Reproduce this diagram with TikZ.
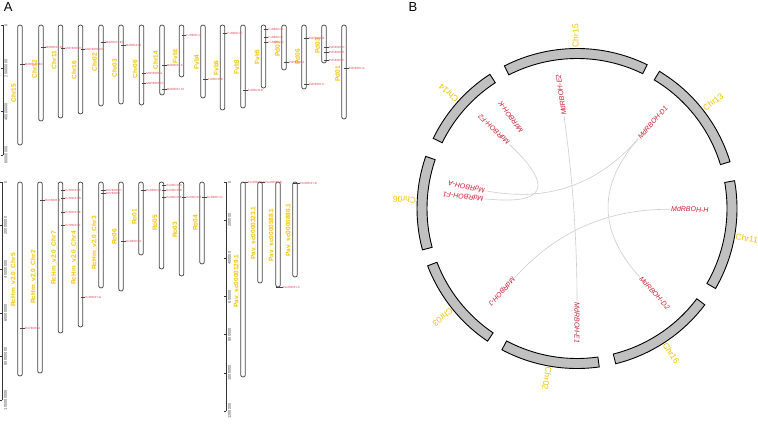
\documentclass[tikz,border=0pt]{standalone}
\usepackage{fontspec}
\setmainfont{Liberation Sans}
\usetikzlibrary{calc}
\definecolor{gold}{RGB}{245,196,0}
\definecolor{genered}{RGB}{232,72,88}
\definecolor{bred}{RGB}{200,30,50}
\definecolor{chromc}{RGB}{70,70,70}
\definecolor{linkc}{RGB}{205,205,205}
\definecolor{arcfill}{RGB}{192,192,192}
\definecolor{markblue}{RGB}{40,40,220}
\newcommand{\mkchrom}[3]{\draw[chromo] (#1-2.3,#2) rectangle (#1+2.3,#3);}
\newcommand{\mkgene}[4]{\draw[gtick] (#2,#3) -- (#2+4.5,#3) node[genelab,anchor=west] (#1) {#4};}
\newcommand{\mkclab}[4]{\node[chrlab] (#1) at (#2,#3) {#4};}
\newcommand{\mksector}[2]{\draw[sector] (#1:160) arc[start angle=#1, end angle=#2, radius=160] -- (#2:150) arc[start angle=#2, end angle=#1, radius=150] -- cycle;}
\begin{document}
\begin{tikzpicture}[x=1pt,y=-1pt,
  chromo/.style={draw=chromc, fill=white, line width=0.75pt, rounded corners=2.2pt},
  gtick/.style={draw=chromc, line width=0.3pt},
  genelab/.style={text=genered, font=\fontsize{3}{3}\selectfont, inner sep=0.3pt},
  chrlab/.style={text=gold, font=\fontsize{6.5}{6.5}\selectfont\bfseries, rotate=90, inner sep=0pt},
  axnum/.style={text=black!70, font=\fontsize{4}{4}\selectfont, rotate=90, inner sep=0pt},
  axline/.style={draw=black!80, line width=0.5pt},
  panel/.style={font=\fontsize{13}{13}\selectfont, inner sep=0pt},
  sector/.style={draw=black, fill=arcfill, line width=0.9pt},
  blab/.style={text=gold, font=\fontsize{8.5}{8.5}\selectfont, inner sep=0pt, anchor=west},
  glab/.style={text=bred, font=\fontsize{7}{7}\selectfont\itshape, inner sep=0pt, anchor=west},
  link/.style={draw=linkc, line width=0.6pt}]
\useasboundingbox (0,0) rectangle (758,425);
\fill[white] (0,0) rectangle (758,425);

% panel letters
\node[panel] (pA) at (8.3,7) {A};
\node[panel] (pB) at (413,7) {B};

% ===== top axis
\draw[axline] (3,25) -- (3,155);
\foreach \v/\t [count=\i] in {25/0, 68.3/20000000, 111.7/40000000, 155/60000000} {
  \draw[axline] (1,\v) -- (3,\v);
  \node[axnum] (ta\i) at (6,\v) {\t};
}
% ===== top chromosomes
\mkchrom{20}{25}{145}   \mkclab{c1}{13.5}{93}{Chr15}
\mkchrom{41}{25}{121}   \mkclab{c2}{34.5}{69}{Chr12}
\mkchrom{60.5}{25}{118} \mkclab{c3}{54}{60}{Chr11}
\mkchrom{80.5}{25}{114} \mkclab{c4}{74}{70}{Chr16}
\mkchrom{101}{25}{106}  \mkclab{c5}{94.5}{62}{Chr02}
\mkchrom{121}{25}{104}  \mkclab{c6}{114.5}{68}{Chr03}
\mkchrom{141.5}{25}{105} \mkclab{c7}{135}{69}{Chr06}
\mkchrom{162}{25}{95}   \mkclab{c8}{155.5}{60}{Chr14}
\mkchrom{181.5}{25}{77} \mkclab{c9}{175}{56}{Fvb1}
\mkchrom{203}{25}{98}   \mkclab{c10}{196.5}{62}{Fvb4}
\mkchrom{222.5}{25}{110} \mkclab{c11}{216}{68}{Fvb6}
\mkchrom{243}{25}{108}  \mkclab{c12}{236.5}{67}{Fvb3}
\mkchrom{263.5}{25}{88} \mkclab{c13}{257}{57}{Fvb5}
\mkchrom{284}{25}{70}   \mkclab{c14}{277.5}{49}{Pd07}
\mkchrom{304}{25}{89}   \mkclab{c15}{297.5}{57}{Pd06}
\mkchrom{324}{25}{63}   \mkclab{c16}{317.5}{46}{Pd03}
\mkchrom{344}{25}{119}  \mkclab{c17}{337.5}{74}{Pd01}
% top genes
\mkgene{g1}{20}{64}{MdRBOH-E2}
\mkgene{g2}{41}{47}{MdRBOH-D1}
\mkgene{g3}{60.5}{48}{MdRBOH-H}
\mkgene{g4}{80.5}{49}{MdRBOH-D2}
\mkgene{g5}{101}{42}{MdRBOH-E1}
\mkgene{g6}{121}{45}{MdRBOH-J}
\mkgene{g7}{141.5}{73}{MdRBOH-A}
\mkgene{g8}{141.5}{83.5}{MdRBOH-F1}
\mkgene{g9}{162}{65}{MdRBOH-K}
\mkgene{g10}{162}{89}{MdRBOH-F2}
\mkgene{g11}{181.5}{35}{FvRBOH-A}
\mkgene{g12}{203}{79}{FvRBOH-B}
\mkgene{g13}{222.5}{33}{FvRBOH-C}
\mkgene{g14}{243}{90}{FvRBOH-D}
\mkgene{g15}{263.5}{29}{FvRBOH-E}
\mkgene{g16}{263.5}{37}{FvRBOH-F}
\mkgene{g17}{263.5}{42}{FvRBOH-G}
\mkgene{g18}{284}{62}{PdRBOH-A}
\mkgene{g19}{304}{38}{PdRBOH-B}
\mkgene{g20}{304}{84}{PdRBOH-C}
\mkgene{g21}{324}{47}{PdRBOH-D}
\mkgene{g22}{324}{52}{PdRBOH-E}
\mkgene{g23}{324}{60}{PdRBOH-F}
\mkgene{g24}{344}{68}{PdRBOH-G}

% ===== bottom axis
\draw[axline] (2,182) -- (2,400);
\foreach \v/\t [count=\i] in {182/0, 225.6/20000000, 269.2/40000000, 312.8/60000000, 356.4/80000000, 400/100000000} {
  \draw[axline] (0,\v) -- (2,\v);
  \node[axnum] (ba\i) at (5.5,\v) {\t};
}
\mkchrom{20}{182}{376}   \mkclab{d1}{13.5}{280}{RcHm\_v2.0\_Chr5}
\mkchrom{40}{182}{373}   \mkclab{d2}{33.5}{277}{RcHm\_v2.0\_Chr2}
\mkchrom{60.5}{182}{333} \mkclab{d3}{54}{258}{RcHm\_v2.0\_Chr7}
\mkchrom{80.5}{182}{327} \mkclab{d4}{74}{258}{RcHm\_v2.0\_Chr4}
\mkchrom{101}{182}{288}  \mkclab{d5}{94.5}{243}{RcHm\_v2.0\_Chr3}
\mkchrom{121}{182}{291}  \mkclab{d6}{114.5}{237}{Ro06}
\mkchrom{141}{182}{255}  \mkclab{d7}{134.5}{217}{Ro01}
\mkchrom{161.5}{182}{269} \mkclab{d8}{155}{223}{Ro05}
\mkchrom{181.5}{182}{276} \mkclab{d9}{175}{230}{Ro03}
\mkchrom{202}{182}{264}  \mkclab{d10}{195.5}{223}{Ro04}
\mkgene{h1}{20}{328}{RcRBOH-A}
\mkgene{h2}{40}{200}{RcRBOH-B}
\mkgene{h3}{60.5}{190}{RcRBOH-C}
\mkgene{h4}{60.5}{198}{RcRBOH-D}
\mkgene{h5}{60.5}{212}{RcRBOH-E}
\mkgene{h6}{60.5}{225}{RcRBOH-F}
\mkgene{h7}{80.5}{297}{RcRBOH-G}
\mkgene{h8}{101}{190}{RcRBOH-H}
\mkgene{h9}{101}{193.5}{RcRBOH-I}
\mkgene{h10}{121}{241}{RoRBOH-A}
\mkgene{h11}{141}{190}{RoRBOH-B}
\mkgene{h12}{161.5}{185}{RoRBOH-C}
\mkgene{h13}{161.5}{190}{RoRBOH-D}
\mkgene{h14}{161.5}{197}{RoRBOH-E}
\mkgene{h15}{181.5}{197}{RoRBOH-F}
\mkgene{h16}{202}{197}{RoRBOH-G}

% ===== Pav axis
\draw[axline] (226,182) -- (226,411);
\foreach \v/\t [count=\i] in {182/0, 220.2/200000, 258.3/400000, 296.5/600000, 334.7/800000, 372.8/1000000, 411/1200000} {
  \draw[axline] (224,\v) -- (226,\v);
  \node[axnum] (pa\i) at (229.5,\v) {\t};
}
\mkchrom{243}{182}{377}  \mkclab{e1}{236.5}{281}{Pav\_sc0000129.1}
\mkchrom{260}{182}{283}  \mkclab{e2}{253.5}{233}{Pav\_sc0000323.1}
\mkchrom{278}{182}{287}  \mkclab{e3}{271.5}{235}{Pav\_sc0000588.1}
\mkchrom{295}{182}{277}  \mkclab{e4}{288.5}{230}{Pav\_sc0000886.1}
\draw[markblue, line width=0.8pt] (275.5,287) -- (280.5,287);
\draw[markblue, line width=0.8pt] (292.5,183.5) -- (297.5,183.5);
\mkgene{k1}{243}{182.5}{PavRBOH-A}
\mkgene{k2}{260}{182.5}{PavRBOH-B}
\mkgene{k3}{278}{287}{PavRBOH-C}
\mkgene{k4}{295}{183.5}{PavRBOH-D}

% ===== panel B
\begin{scope}[shift={(577pt,-208.5pt)}, x=1pt, y=1pt]
  \coordinate (O) at (0,0);
  \mksector{64}{117}
  \mksector{17}{59}
  \mksector{-30}{10}
  \mksector{-76}{-37}
  \mksector{242}{278}
  \mksector{201}{236}
  \mksector{161}{195}
  \mksector{123}{154}
  \node[blab, rotate=90.5] (b15) at (90.5:161) {Chr15};
  \node[blab, rotate=38] (b13) at (38:161) {Chr13};
  \node[blab, rotate=-10] (b11) at (-10:161) {Chr11};
  \node[blab, rotate=-57] (b16) at (-57:161) {Chr16};
  \node[blab, rotate=260] (b02) at (260:161) {Chr02};
  \node[blab, rotate=219] (b03) at (219:161) {Chr03};
  \node[blab, rotate=177] (b06) at (177:161) {Chr06};
  \node[blab, rotate=138] (b14) at (138:161) {Chr14};
  % gene anchors
  \foreach \n/\a in {E2/98, K/126, F2/136.5, A/169, F1/174, J/228, E1/270, D2/312.5, H/359.5, D1/48.7} {
    \coordinate (p\n) at (\a:93);
    \node[glab, rotate=\a] (l\n) at (\a:94) {MdRBOH-\n};
  }
  % links (quadratic curves through centre)
  \draw[link] (pF2) .. controls ($(pF2)!0.6667!(O)$) and ($(pF1)!0.6667!(O)$) .. (pF1);
  \draw[link] (pD1) .. controls ($(pD1)!0.6667!(O)$) and ($(pA)!0.6667!(O)$) .. (pA);
  \draw[link] (pD1) .. controls ($(pD1)!0.6667!(O)$) and ($(pD2)!0.6667!(O)$) .. (pD2);
  \draw[link] (pE2) .. controls ($(pE2)!0.6667!(O)$) and ($(pE1)!0.6667!(O)$) .. (pE1);
  \draw[link] (pH) .. controls ($(pH)!0.6667!(O)$) and ($(pJ)!0.6667!(O)$) .. (pJ);
\end{scope}
\end{tikzpicture}
\end{document}
